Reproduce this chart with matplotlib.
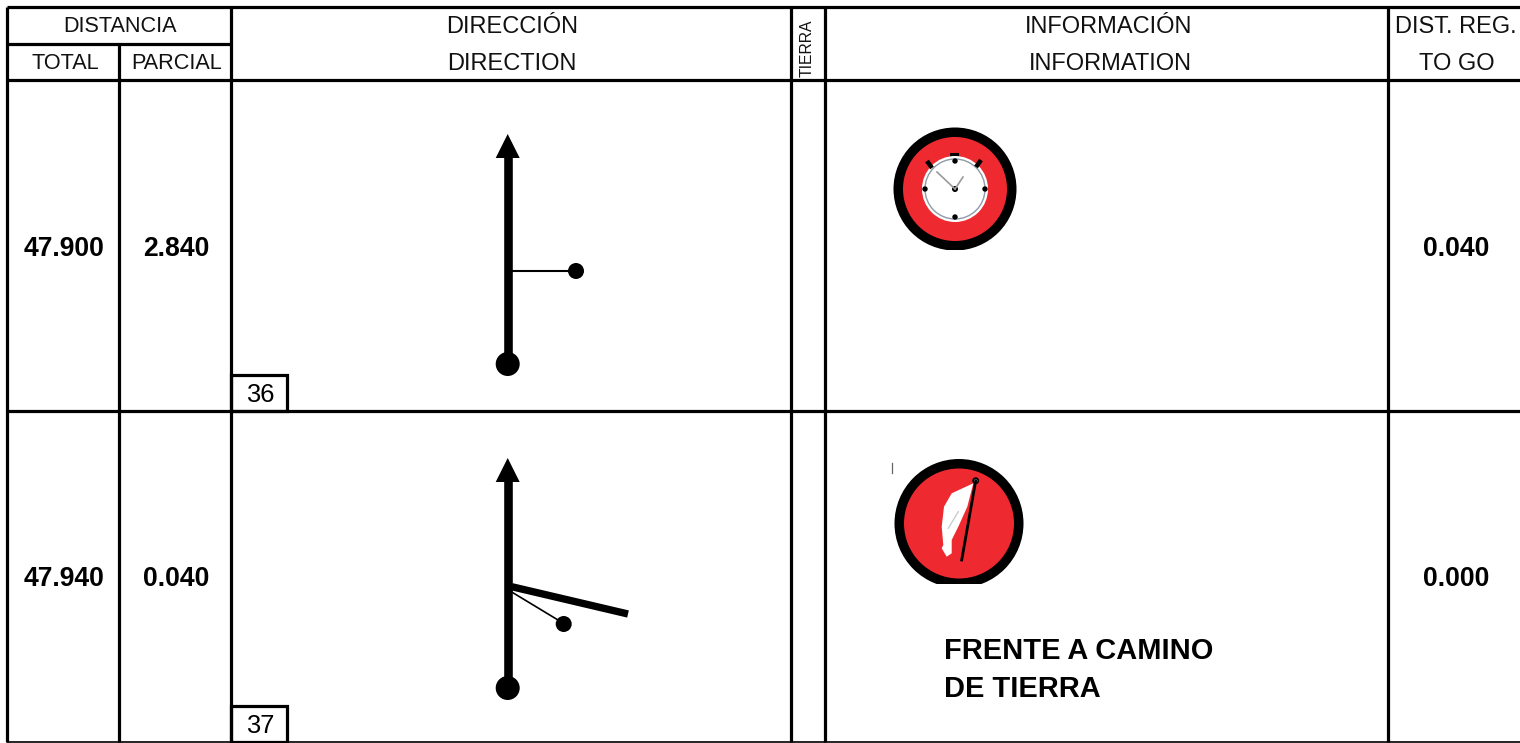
import matplotlib
matplotlib.use("Agg")
import matplotlib.pyplot as plt
from matplotlib.patches import Circle, Polygon, Rectangle

plt.rcParams['font.family'] = ['Liberation Sans', 'DejaVu Sans']

# table contents
header_left = ["DISTANCIA", "TOTAL", "PARCIAL"]
header_direction = ["DIRECCIÓN", "DIRECTION"]
header_info = ["INFORMACIÓN", "INFORMATION"]
header_togo = ["DIST. REG.", "TO GO"]
total_km = ["47.900", "47.940"]
partial_km = ["2.840", "0.040"]
to_go_km = ["0.040", "0.000"]
box_numbers = ["36", "37"]
info_lines = ["FRENTE A CAMINO", "DE TIERRA"]

# grid lines, in pixels
col_x = [231, 791, 825, 1388]
row_y = [7, 80, 411]
left, right, bottom = 7, 1520, 742

fig = plt.figure(figsize=(15.2, 7.43), dpi=100)
ax = fig.add_axes([0, 0, 1, 1])
ax.set_xlim(0, 1520)
ax.set_ylim(743, 0)
ax.axis('off')


def hline(y, x0=left, x1=right, lw=2.3):
    ax.plot([x0, x1], [y, y], color='black', lw=lw, solid_capstyle='butt')


def vline(x, y0=row_y[0], y1=bottom, lw=2.3):
    ax.plot([x, x], [y0, y1], color='black', lw=lw, solid_capstyle='butt')


def draw_stopwatch(cx, cy):
    ax.add_patch(Circle((cx, cy), 61.5, fc='black', ec='none'))
    ax.add_patch(Circle((cx, cy), 52, fc='#ee2a30', ec='none'))
    # lugs on top of the watch
    ax.add_patch(Rectangle((cx - 5, cy - 36), 9, 5, fc='black', ec='none'))
    ax.plot([cx - 28, cx - 23], [cy - 28, cy - 21], color='black', lw=3.2, solid_capstyle='butt')
    ax.plot([cx + 26, cx + 21], [cy - 29, cy - 22], color='black', lw=3.2, solid_capstyle='butt')
    ax.add_patch(Circle((cx, cy), 33, fc='white', ec='none'))
    ax.add_patch(Circle((cx, cy), 30, fc='white', ec='#8d9ba6', lw=1))
    for dx, dy in [(0, -28), (0, 28), (-30, 0), (30, 0)]:
        ax.add_patch(Circle((cx + dx, cy + dy), 2.7, fc='black', ec='none'))
    ax.plot([cx, cx - 18], [cy, cy - 17], color='#9a9a9a', lw=1.2)
    ax.plot([cx, cx + 8], [cy, cy - 12], color='#9a9a9a', lw=1.2)
    ax.add_patch(Circle((cx, cy), 3, fc='black', ec='none'))
    # the icon is cropped flat at the bottom
    ax.add_patch(Rectangle((cx - 70, cy + 61), 140, 12, fc='white', ec='none'))


def draw_flag(cx, cy):
    ax.add_patch(Circle((cx, cy), 64.5, fc='black', ec='none'))
    ax.add_patch(Circle((cx, cy), 55, fc='#ee2a30', ec='none'))
    outline = [(14.3, -40.2), (-7.3, -30.2), (-15, -16.8), (-17.3, 3.2), (-15.7, 21.5),
               (-17.3, 24.8), (-12.3, 33.2), (-7.3, 29.8), (-7.3, 16.5), (-0.7, 3.2), (8.3, -16.8)]
    ax.add_patch(Polygon([(cx + a, cy + b) for a, b in outline], closed=True, fc='white', ec='none'))
    ax.plot([cx - 0.7, cx - 10.7], [cy - 11.8, cy + 4.8], color='#c9cdd0', lw=1)
    ax.plot([cx + 16.7, cx + 2.7], [cy - 42.8, cy + 36.5], color='black', lw=2)
    ax.add_patch(Circle((cx + 16.7, cy - 42.8), 2.6, fc='#cccccc', ec='black', lw=1.2))
    ax.add_patch(Rectangle((cx - 70, cy + 60), 140, 12, fc='white', ec='none'))
    ax.plot([891.7, 891.7], [463, 473], color='#666666', lw=0.9)


def draw_tulip(row, top, end):
    x = 507.7
    ax.plot([x, x], [top + 22, end], color='black', lw=6.2, solid_capstyle='butt')
    ax.add_patch(Polygon([(x - 12, top + 24), (x + 12, top + 24), (x, top)], fc='black', ec='none'))
    ax.add_patch(Circle((x, end), 12, fc='black', ec='none'))
    if row == 0:
        ax.plot([x, 576], [271, 271], color='black', lw=1.5)
        ax.add_patch(Circle((576, 271), 8, fc='black', ec='none'))
    else:
        ax.plot([x + 4, 628], [586.7, 614], color='black', lw=5.3, solid_capstyle='butt')
        ax.plot([x + 4, 558], [592, 620], color='black', lw=1.2)
        ax.add_patch(Circle((563.7, 624), 8, fc='black', ec='none'))


# grid
for y in row_y:
    hline(y)
hline(bottom, lw=1.2)
hline(44, x1=col_x[0])
vline(left)
vline(119, y0=44)
for x in col_x:
    vline(x)

# headers
small = dict(ha='center', va='center', fontsize=15.6, color='#111111')
head = dict(ha='center', va='center', fontsize=17, color='#111111')
ax.text(120, 26, header_left[0], **small)
ax.text(65, 63.5, header_left[1], **small)
ax.text(177, 63.5, header_left[2], **small)
ax.text(512, 27, header_direction[0], **head)
ax.text(512, 64, header_direction[1], **head)
ax.text(1109, 27, header_info[0], **head)
ax.text(1110, 64, header_info[1], **head)
ax.text(1456, 27, header_togo[0], **head)
ax.text(1457, 64, header_togo[1], **head)
ax.text(807, 48, "TIERRA", ha='center', va='center', rotation=90, fontsize=11.3, color='#111111')

# rows
row_centers = [249, 579]
row_tops = [134, 458]
row_ends = [364, 688]
box_bottoms = [411, 742]
for i in range(2):
    kw = dict(ha='center', va='center', fontsize=19.1, fontweight='bold')
    ax.text(64, row_centers[i], total_km[i], **kw)
    ax.text(176, row_centers[i], partial_km[i], **kw)
    ax.text(1456, row_centers[i], to_go_km[i], **kw)
    draw_tulip(i, row_tops[i], row_ends[i])
    # numbered box in the lower left corner of the direction cell
    y1 = box_bottoms[i]
    ax.add_patch(Rectangle((col_x[0], y1 - 36), 56, 36, fc='white', ec='black', lw=2.3))
    ax.text(260, y1 - 16, box_numbers[i], ha='center', va='center', fontsize=18.4)

draw_stopwatch(955, 189)
draw_flag(959, 523.5)
ax.text(944, 651, info_lines[0], ha='left', va='center', fontsize=20.9, fontweight='bold')
ax.text(944, 689, info_lines[1], ha='left', va='center', fontsize=20.9, fontweight='bold')

fig.savefig("out.png", dpi=100)
